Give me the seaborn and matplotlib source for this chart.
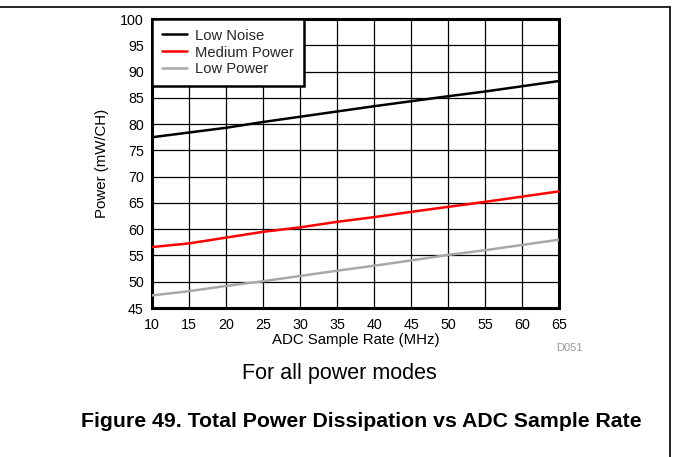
import pandas as pd
import matplotlib.pyplot as plt
import seaborn as sns
from matplotlib.lines import Line2D

# data
sample_rate = [10, 15, 20, 25, 30, 35, 40, 45, 50, 55, 60, 65]
low_noise = [77.5, 78.4, 79.3, 80.4, 81.4, 82.4, 83.4, 84.35, 85.3, 86.2, 87.2, 88.2]
medium_power = [56.6, 57.3, 58.4, 59.5, 60.35, 61.4, 62.3, 63.3, 64.25, 65.2, 66.2, 67.2]
low_power = [47.4, 48.2, 49.2, 50.1, 51.1, 52.1, 53.05, 54.05, 55.1, 56.0, 57.0, 58.0]
modes = ["Low Noise", "Medium Power", "Low Power"]
mode_colors = ["black", "#ff0000", "#a8a8a8"]

x_ticks = list(range(10, 70, 5))
y_ticks = list(range(45, 105, 5))


def main():
    rows = []
    for mode, vals in zip(modes, [low_noise, medium_power, low_power]):
        for x, v in zip(sample_rate, vals):
            rows.append({"ADC Sample Rate (MHz)": x, "Power (mW/CH)": v, "Mode": mode})
    df = pd.DataFrame(rows)

    sns.set_theme(style="white")
    plt.rcParams["font.family"] = ["Liberation Sans", "DejaVu Sans"]

    fig = plt.figure(figsize=(6.73, 4.57), dpi=100)
    ax = fig.add_axes([0.2259, 0.326, 0.6047, 0.6324])

    sns.lineplot(data=df, x="ADC Sample Rate (MHz)", y="Power (mW/CH)", hue="Mode",
                 hue_order=modes, palette=dict(zip(modes, mode_colors)),
                 linewidth=1.8, ax=ax, zorder=3)

    ax.set_xlim(10, 65)
    ax.set_ylim(45, 100)
    ax.set_xticks(x_ticks)
    ax.set_yticks(y_ticks)
    ax.tick_params(axis="both", length=0, labelsize=10.3, colors="black")
    ax.tick_params(axis="x", pad=7)
    ax.tick_params(axis="y", pad=6)
    ax.grid(True, color="black", linewidth=0.9)
    ax.set_axisbelow(True)
    for sp in ax.spines.values():
        sp.set_color("black")
        sp.set_linewidth(2.2)

    ax.set_xlabel("ADC Sample Rate (MHz)", fontsize=10.8, labelpad=1, color="black")
    ax.set_ylabel("Power (mW/CH)", fontsize=10.8, labelpad=8, color="black")

    leg = ax.legend(loc="upper left", fontsize=10.6, frameon=True, fancybox=False,
                    borderaxespad=0, handlelength=1.75, handletextpad=0.55,
                    labelspacing=0.2, borderpad=0.65)
    leg.get_frame().set_edgecolor("black")
    leg.get_frame().set_linewidth(1.8)
    leg.get_frame().set_alpha(1)
    for line in leg.get_lines():
        line.set_linewidth(1.8)

    fig.text(0.826, 0.238, "D051", fontsize=8, color="#999999", ha="left", va="center")
    fig.text(0.505, 1 - 379.3 / 457, "For all power modes", fontsize=15.5, color="black",
             ha="center", va="baseline")
    fig.text(0.537, 1 - 427.3 / 457, "Figure 49. Total Power Dissipation vs ADC Sample Rate",
             fontsize=15.3, fontweight="bold", color="black", ha="center", va="baseline")

    # page frame lines
    fig.add_artist(Line2D([0, 0.9955], [0.985, 0.985], color="black", linewidth=1.2,
                          transform=fig.transFigure))
    fig.add_artist(Line2D([0.9955, 0.9955], [0, 0.985], color="black", linewidth=1.2,
                          transform=fig.transFigure))

    fig.savefig("out.png", dpi=100)


if __name__ == "__main__":
    main()
